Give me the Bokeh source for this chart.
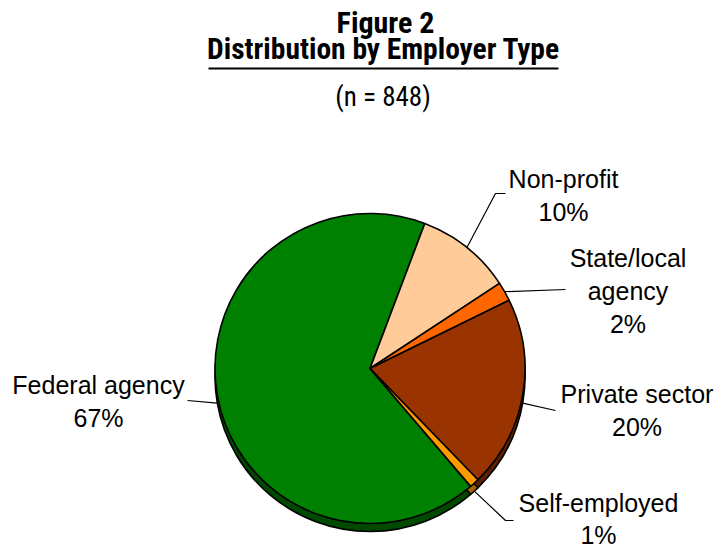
import math
from bokeh.plotting import figure
from bokeh.models import Range1d, ColumnDataSource
from bokeh.core.properties import value
from bokeh.embed import file_html
from bokeh.resources import INLINE

# ---------------- data ----------------
categories = ["Federal agency", "Non-profit", "State/local agency", "Private sector", "Self-employed"]
percents = [67, 10, 2, 20, 1]
label_lines = [["Federal agency"], ["Non-profit"], ["State/local", "agency"], ["Private sector"], ["Self-employed"]]
title_text = "Figure 2"
subtitle_text = "Distribution by Employer Type"
n_text = "(n = 848)"

# ---------------- styles / layout ----------------
colors = ["#008000", "#FFCC99", "#FF6600", "#993300", "#FF9900"]
side_colors = ["#004A00", "#A8805C", "#A84400", "#5E1F00", "#A86400"]
W, H = 717, 548

def Y(py):
    return H - py

cx_px, cy_px, radius, depth = 369.5, 368.0, 155.0, 8.0
first_angle = 139.5  # degrees clockwise from 12 o'clock where first slice starts
label_font = "Liberation Sans"
label_size = "25px"
text_shift = -10  # renderer baseline correction
label_pos = {  # text centre x, first baseline y (page px), line gap
    "Federal agency": (98, 394, 33),
    "Non-profit": (563, 188, 33),
    "State/local agency": (627.5, 267, 33),
    "Private sector": (636.5, 403, 33),
    "Self-employed": (598, 512, 32),
}
leader_elbows = {
    "Federal agency": [(187, 400)],
    "Non-profit": [(495, 193), (505, 193)],
    "State/local agency": [(565, 289)],
    "Private sector": [(555, 410)],
    "Self-employed": [(505, 520), (513, 520)],
}

p = figure(width=W, height=H, x_range=Range1d(0, W), y_range=Range1d(0, H),
           output_backend="svg", toolbar_location=None, min_border=0)
p.axis.visible = False
p.grid.visible = False
p.outline_line_color = None
p.background_fill_color = "white"
p.border_fill_color = "white"

# slice angles
total = sum(percents)
starts, ends, mids = [], [], []
acc = first_angle
for v in percents:
    span = 360.0 * v / total
    starts.append(acc)
    ends.append(acc + span)
    mids.append(acc + span / 2)
    acc += span

def phi(theta):
    return math.radians(90.0 - theta)

src = ColumnDataSource(dict(
    start=[phi(s) for s in starts],
    end=[phi(e) for e in ends],
    color=colors,
    side=side_colors,
))

# 3D side
p.wedge(x=cx_px, y=Y(cy_px + depth), radius=radius, start_angle="start", end_angle="end",
        direction="clock", fill_color="side", line_color="black", line_width=1.6, source=src)
# top face
p.wedge(x=cx_px, y=Y(cy_px), radius=radius, start_angle="start", end_angle="end",
        direction="clock", fill_color="color", line_color="black", line_width=1.6, source=src)

# leader lines
xs, ys = [], []
for name, m in zip(categories, mids):
    t = math.radians(m)
    ax = cx_px + radius * math.sin(t)
    ay = cy_px - radius * math.cos(t)
    if math.cos(t) < 0:
        ay += depth
    pts = [(ax, ay)] + leader_elbows[name]
    xs.append([q[0] for q in pts])
    ys.append([Y(q[1]) for q in pts])
p.multi_line(xs=xs, ys=ys, line_color="black", line_width=1.2)

# labels
tx, ty, tt = [], [], []
for name, lines, v in zip(categories, label_lines, percents):
    x0, b0, gap = label_pos[name]
    for i, ln in enumerate(lines + [f"{v}%"]):
        tx.append(x0)
        ty.append(Y(b0 + i * gap + text_shift))
        tt.append(ln)
p.text(x=tx, y=ty, text=tt, text_font=value(label_font), text_font_size=value(label_size),
       text_align="center", text_baseline="alphabetic", text_color="black")

# titles
title_font = "Roboto Condensed"
p.text(x=[385], y=[Y(32 + text_shift)], text=[title_text], text_font=value(title_font), text_font_size=value("30px"),
       text_font_style="bold", text_align="center", text_baseline="alphabetic", text_color="black")
p.text(x=[383], y=[Y(58 + text_shift)], text=[subtitle_text], text_font=value(title_font), text_font_size=value("29.5px"),
       text_font_style="bold", text_align="center", text_baseline="alphabetic", text_color="black")
p.segment(x0=[208], y0=[Y(68)], x1=[558], y1=[Y(68)], line_color="black", line_width=2)
p.text(x=[382.5], y=[Y(106 + text_shift)], text=[n_text], text_font=value(title_font), text_font_size=value("27px"),
       text_align="center", text_baseline="alphabetic", text_color="black")

open("out.html", "w").write(file_html(p, INLINE))
